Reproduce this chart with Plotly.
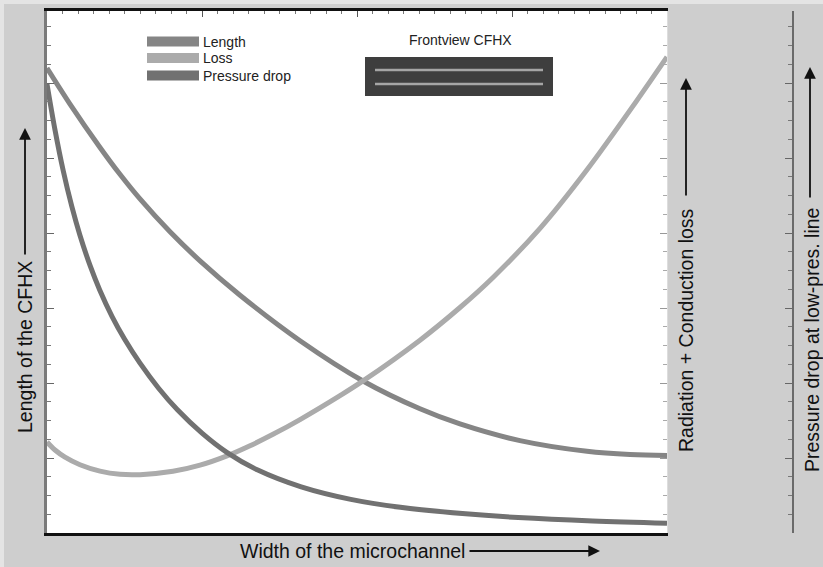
import plotly.graph_objects as go

# ---------------- data (arbitrary units) ----------------
series_names = ["Length", "Loss", "Pressure drop"]

length_x = [0, 3.71, 8.55, 11.77, 15.0, 19.84, 24.68, 31.13, 40.81, 50.97, 60.16, 66.61, 76.29, 87.10, 94.03, 100]
length_y = [89.08, 82.18, 73.86, 68.71, 63.99, 57.70, 52.13, 45.55, 36.84, 29.12, 23.79, 20.89, 17.70, 15.65, 15.03, 14.85]

loss_x = [0, 1.29, 2.90, 5.32, 8.55, 11.77, 15.0, 20.32, 24.68, 29.03, 32.74, 36.45, 40.81, 47.26, 50.97,
          60.16, 66.61, 71.94, 79.52, 87.10, 95.16, 100]
loss_y = [17.43, 15.90, 14.53, 13.08, 11.85, 11.24, 11.18, 11.82, 13.00, 14.78, 16.71, 18.90, 21.73, 26.31, 29.13,
          36.94, 43.20, 48.96, 58.36, 69.58, 82.88, 91.2]

pdrop_x = [0, 1.3, 2.6, 4.0, 5.3, 7.0, 8.5, 10.5, 12.5, 15, 18, 21, 25, 29, 34, 41, 49, 57, 67, 76, 88, 100]
pdrop_y = [86.0, 77.16, 69.49, 62.56, 57.10, 51.06, 46.56, 41.46, 37.16, 32.54, 27.74, 23.66, 19.14, 15.46,
           12.06, 8.84, 6.44, 4.92, 3.72, 2.96, 2.30, 1.88]

x_title = "Width of the microchannel"
y_title = "Length of the CFHX"
y2_title = "Radiation + Conduction loss"
y3_title = "Pressure drop at low-pres. line"
inset_title = "Frontview CFHX"

# ---------------- styling ----------------
W, H = 823, 567
PLOT_L, PLOT_T, PLOT_B = 47, 11, 533      # page pixels
PLOT_RIGHT = 667
AXIS3_X = 793
L, T = PLOT_L, PLOT_T
B = H - PLOT_B
R = W - AXIS3_X
colors = {"Length": "#858585", "Loss": "#ababab", "Pressure drop": "#717171"}
FONT = "Liberation Sans, Arial, sans-serif"
BG = "#cecece"
PW = AXIS3_X - PLOT_L
PH = PLOT_B - PLOT_T


def PX(px):
    return (px - PLOT_L) / PW


def PY(py):
    return (PLOT_B - py) / PH


fig = go.Figure()
for name, xs, ys in [("Length", length_x, length_y),
                     ("Loss", loss_x, loss_y),
                     ("Pressure drop", pdrop_x, pdrop_y)]:
    fig.add_trace(go.Scatter(x=xs, y=ys, mode="lines", name=name,
                             line=dict(color=colors[name], width=5, shape="spline", smoothing=1.0),
                             showlegend=False))

# empty traces so the extra axes are drawn
fig.add_trace(go.Scatter(x=[], y=[], xaxis="x2", yaxis="y", showlegend=False, hoverinfo="skip"))
fig.add_trace(go.Scatter(x=[], y=[], xaxis="x", yaxis="y2", showlegend=False, hoverinfo="skip"))
fig.add_trace(go.Scatter(x=[], y=[], xaxis="x", yaxis="y3", showlegend=False, hoverinfo="skip"))

ydt = 75 / 5.22      # major tick step in data units
ymdt = ydt / 4       # minor tick step
xdom = [0, PX(PLOT_RIGHT)]

fig.update_layout(
    width=W, height=H,
    margin=dict(l=L, r=R, t=T, b=B),
    paper_bgcolor=BG, plot_bgcolor="white",
    font=dict(family=FONT, color="#111"),
    xaxis=dict(domain=xdom, range=[0, 100], showgrid=False, zeroline=False,
               showticklabels=False, ticks="", showline=True, linecolor="#111",
               linewidth=2.5, mirror=False),
    xaxis2=dict(domain=xdom, range=[0, 100], overlaying="x", side="top", anchor="y",
                showgrid=False, zeroline=False, showticklabels=False,
                showline=True, linecolor="#111", linewidth=2.5,
                ticks="inside", tick0=0, dtick=25, ticklen=6, tickcolor="#555", tickwidth=1,
                minor=dict(ticks="inside", dtick=2.5, ticklen=3, tickcolor="#777", tickwidth=1)),
    yaxis=dict(range=[0, 100], showgrid=False, zeroline=False, showticklabels=False,
               showline=True, linecolor="#7a7a7a", linewidth=2.5,
               ticks="inside", tick0=0, dtick=ydt, ticklen=7, tickcolor="#666", tickwidth=1,
               minor=dict(ticks="inside", dtick=ymdt, ticklen=4, tickcolor="#777", tickwidth=1)),
    yaxis2=dict(range=[0, 100], overlaying="y", side="right", anchor="x",
                showgrid=False, zeroline=False, showticklabels=False,
                showline=True, linecolor="#dddddd", linewidth=1,
                ticks="inside", tick0=0, dtick=ydt, ticklen=7, tickcolor="#999", tickwidth=1,
                minor=dict(ticks="inside", dtick=ymdt, ticklen=4, tickcolor="#aaa", tickwidth=1)),
    yaxis3=dict(range=[0, 100], overlaying="y", side="right", anchor="free", position=1.0,
                showgrid=False, zeroline=False, showticklabels=False,
                showline=True, linecolor="#6a6a6a", linewidth=2,
                ticks="inside", tick0=0, dtick=ydt, ticklen=7, tickcolor="#666", tickwidth=1,
                minor=dict(ticks="inside", dtick=ymdt, ticklen=4, tickcolor="#777", tickwidth=1)),
)

shapes = []
annotations = []

# light border strips at the top and left edge of the picture
shapes.append(dict(type="rect", xref="paper", yref="paper", layer="below",
                   x0=PX(0), x1=PX(W), y0=PY(4), y1=PY(0), fillcolor="#e4e4e4", line=dict(width=0)))
shapes.append(dict(type="rect", xref="paper", yref="paper", layer="below",
                   x0=PX(0), x1=PX(4), y0=PY(H), y1=PY(0), fillcolor="#e4e4e4", line=dict(width=0)))

# legend (swatches + labels)
leg_rows = [41.5, 58, 75.5]
for name, yy in zip(series_names, leg_rows):
    shapes.append(dict(type="rect", xref="paper", yref="paper",
                       x0=PX(147), x1=PX(199), y0=PY(yy + 5), y1=PY(yy - 5),
                       fillcolor=colors[name], line=dict(width=0)))
    annotations.append(dict(text=name, xref="paper", yref="paper", x=PX(201), y=PY(yy),
                            xanchor="left", yanchor="middle", showarrow=False,
                            font=dict(size=14, color="#222", family=FONT)))

# front-view inset
shapes.append(dict(type="rect", xref="paper", yref="paper",
                   x0=PX(365), x1=PX(553), y0=PY(96), y1=PY(57),
                   fillcolor="#3e3e3e", line=dict(width=0)))
for yy in [70, 84]:
    shapes.append(dict(type="line", xref="paper", yref="paper",
                       x0=PX(375), x1=PX(543), y0=PY(yy), y1=PY(yy),
                       line=dict(color="#a5a5a5", width=2.5)))
annotations.append(dict(text=inset_title, xref="paper", yref="paper", x=PX(460), y=PY(40),
                        xanchor="center", yanchor="middle", showarrow=False,
                        font=dict(size=14, color="#222", family=FONT)))

# axis titles
TS = 19.5
annotations += [
    dict(text=y_title, xref="paper", yref="paper", x=PX(25), y=PY(347), textangle=-90,
         showarrow=False, xanchor="center", yanchor="middle", font=dict(size=TS, family=FONT)),
    dict(text=y2_title, xref="paper", yref="paper", x=PX(686), y=PY(330), textangle=-90,
         showarrow=False, xanchor="center", yanchor="middle", font=dict(size=TS, family=FONT)),
    dict(text=y3_title, xref="paper", yref="paper", x=PX(812), y=PY(340), textangle=-90,
         showarrow=False, xanchor="center", yanchor="middle", font=dict(size=TS, family=FONT)),
    dict(text=x_title, xref="paper", yref="paper", x=PX(352), y=PY(551),
         showarrow=False, xanchor="center", yanchor="middle", font=dict(size=TS, family=FONT)),
]

# arrows
for hx, hy, ax, ay in [(25, 128, 0, 128), (686, 78, 0, 119), (810, 67, 0, 132), (600, 551, -132, 0)]:
    annotations.append(dict(text="", xref="paper", yref="paper", x=PX(hx), y=PY(hy),
                            ax=ax, ay=ay, showarrow=True, arrowhead=2, arrowsize=1.3,
                            arrowwidth=1.8, arrowcolor="#111"))

fig.update_layout(shapes=shapes, annotations=annotations)

fig.write_html("out.html", config={"displayModeBar": False},
               post_script="document.body.style.margin='0';document.body.style.overflow='hidden';")
